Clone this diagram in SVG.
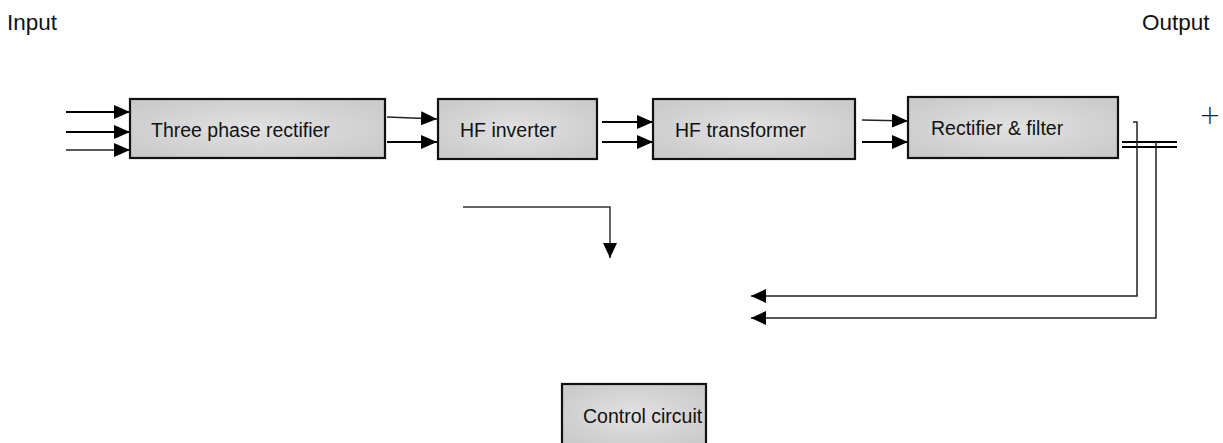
<svg xmlns="http://www.w3.org/2000/svg" width="1223" height="443" viewBox="0 0 1223 443">
  <style>
    .box { stroke: #111; stroke-width: 2.2; fill: url(#boxFill); }
    .lbl { font-family: "Liberation Sans", Arial, sans-serif; font-size: 19.5px; fill: #111; }
    .io { font-family: "Liberation Sans", Arial, sans-serif; font-size: 22.5px; fill: #111; }
    .wire { stroke: #000; stroke-width: 2; fill: none; }
    .thin { stroke: #222; stroke-width: 1.5; fill: none; }
  </style>
  <defs>
    <radialGradient id="boxFill" cx="0.5" cy="0.5" r="0.6">
      <stop offset="0" stop-color="#e2e2e2"/>
      <stop offset="1" stop-color="#cbcbcb"/>
    </radialGradient>
    <marker id="arr" viewBox="0 0 16 14" refX="16" refY="7" markerWidth="16" markerHeight="14" markerUnits="userSpaceOnUse" orient="auto">
      <path d="M0,0 L16,7 L0,14 Z" fill="#000"/>
    </marker>
    <marker id="arrS" viewBox="0 0 15 14" refX="15" refY="7" markerWidth="15" markerHeight="14" markerUnits="userSpaceOnUse" orient="auto">
      <path d="M0,0 L15,7 L0,14 Z" fill="#000"/>
    </marker>
  </defs>

  <text class="io" x="7" y="30">Input</text>
  <text class="io" x="1142" y="30">Output</text>

  <g id="rectifier3">
    <rect class="box" x="130" y="99" width="255" height="59"/>
    <text class="lbl" x="151" y="137">Three phase rectifier</text>
  </g>
  <g id="inverter">
    <rect class="box" x="438" y="99" width="159" height="60"/>
    <text class="lbl" x="460" y="137">HF inverter</text>
  </g>
  <g id="transformer">
    <rect class="box" x="653" y="99" width="202" height="60"/>
    <text class="lbl" x="675" y="137">HF transformer</text>
  </g>
  <g id="rectfilter">
    <rect class="box" x="908" y="97" width="210" height="61"/>
    <text class="lbl" x="931" y="135">Rectifier &amp; filter</text>
  </g>
  <g id="control">
    <rect class="box" x="562" y="384" width="144" height="62"/>
    <text class="lbl" x="583" y="423">Control circuit</text>
  </g>
  <g id="plus">
    <text x="1210" y="124" text-anchor="middle" font-family="DejaVu Sans, sans-serif" font-size="26" font-weight="200" fill="#222">+</text>
  </g>

  <g id="connectors">
    <!-- three-phase inputs -->
    <path class="wire" d="M66,112 H130" marker-end="url(#arr)"/>
    <path class="wire" d="M66,132 H130" marker-end="url(#arr)"/>
    <path class="thin" d="M66,150 H130" marker-end="url(#arr)"/>
    <!-- rectifier to inverter -->
    <path class="thin" d="M387,117 L437,119" marker-end="url(#arr)"/>
    <path class="wire" d="M387,142 H437" marker-end="url(#arr)"/>
    <!-- inverter to transformer -->
    <path class="wire" d="M602,122 H653" marker-end="url(#arr)"/>
    <path class="wire" d="M602,142 H653" marker-end="url(#arr)"/>
    <!-- transformer to rectifier & filter -->
    <path class="thin" d="M862,120 L908,121" marker-end="url(#arr)"/>
    <path class="wire" d="M862,142 H908" marker-end="url(#arr)"/>
    <!-- DC output bus -->
    <path class="wire" d="M1122,142 H1177"/>
    <path class="wire" d="M1122,147 H1177"/>
    <!-- feedback taps -->
    <path class="thin" d="M1133,122 H1137 V296 H751" marker-end="url(#arrS)"/>
    <path class="thin" d="M1156,142 V318 H751" marker-end="url(#arrS)"/>
    <!-- drive signal -->
    <path d="M463,207 H610 V258" stroke="#333" stroke-width="1.5" fill="none" marker-end="url(#arrS)"/>
  </g>
</svg>
